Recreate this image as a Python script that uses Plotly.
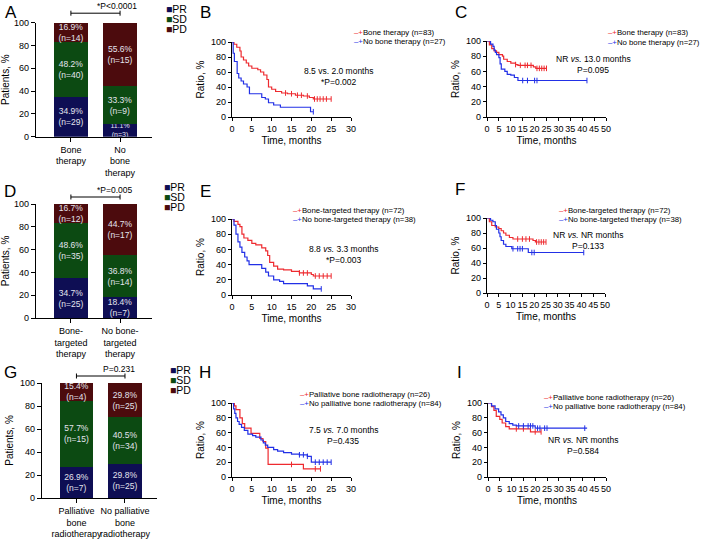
import plotly.graph_objects as go

W, H = 703, 539
FONT = "Liberation Sans, Arial, sans-serif"

# ---- response bars (A, D, G) ----
RESP_LABELS = ["PR", "SD", "PD"]
RESP_COLORS = ["#0e0e54", "#0c4a12", "#4c0b0d"]
RED = "#ee2a2f"
BLUE = "#2230e6"

A_GROUPS = ["Bone<br>therapy", "No<br>bone<br>therapy"]
A_PR = [34.9, 11.1]
A_SD = [48.2, 33.3]
A_PD = [16.9, 55.6]
A_N_PR = [29, 3]
A_N_SD = [40, 9]
A_N_PD = [14, 15]
A_P = "*P<0.0001"

D_GROUPS = ["Bone-<br>targeted<br>therapy", "No bone-<br>targeted<br>therapy"]
D_PR = [34.7, 18.4]
D_SD = [48.6, 36.8]
D_PD = [16.7, 44.7]
D_N_PR = [25, 7]
D_N_SD = [35, 14]
D_N_PD = [12, 17]
D_P = "*P=0.005"

G_GROUPS = ["Palliative<br>bone<br>radiotherapy", "No palliative<br>bone<br>radiotherapy"]
G_PR = [26.9, 29.8]
G_SD = [57.7, 40.5]
G_PD = [15.4, 29.8]
G_N_PR = [7, 25]
G_N_SD = [15, 34]
G_N_PD = [4, 25]
G_P = "P=0.231"

# ---- Kaplan-Meier curves (time in months, survival %) ----
B_RED_T = [0, 0.5, 1.2, 2.0, 2.3, 2.9, 3.6, 4.2, 5.0, 6.5, 7.2, 8.0, 8.8, 9.2, 10.0, 11.0, 12.5, 14.0, 16.0, 18.0, 19.5, 20.5, 25.0]
B_RED_S = [100, 97, 93, 88, 80, 76, 72, 68, 65, 63, 60, 56, 50, 40, 37, 34, 32, 31, 29, 28, 26, 24, 24]
B_RED_C = [13.5, 15, 16.5, 17.5, 19, 20.8, 21.5, 22.2, 23, 23.8, 25]
B_BLUE_T = [0, 0.3, 0.6, 1.3, 1.7, 2.3, 2.9, 3.8, 4.4, 7.5, 8.4, 9.2, 10.5, 12.2, 19.8, 20.5]
B_BLUE_S = [100, 85, 74, 58, 52, 48, 44, 40, 31, 26, 24, 19, 16, 13, 7, 7]
B_BLUE_C = [20.5]

C_RED_T = [0, 1.0, 2.0, 3.0, 4.0, 5.0, 6.5, 7.0, 8.5, 10.0, 12.0, 13.0, 19.5, 20.5, 25.0]
C_RED_S = [100, 95, 90, 87, 85, 82, 80, 76, 73, 71, 69, 68, 66, 64, 64]
C_RED_C = [12, 14, 16, 17, 18.5, 21, 22, 23, 24, 25]
C_BLUE_T = [0, 1.5, 2.5, 3.0, 3.5, 4.0, 5.0, 5.5, 6.0, 7.5, 8.5, 10.0, 11.5, 13.0, 42.0]
C_BLUE_S = [100, 96, 93, 88, 85, 82, 78, 70, 63, 60, 56, 55, 52, 48, 48]
C_BLUE_C = [15, 17, 20, 21, 42]

E_RED_T = [0, 0.5, 1.5, 2.0, 2.5, 3.0, 4.0, 5.0, 6.0, 7.5, 8.5, 9.0, 9.5, 10.5, 11.5, 13.0, 15.0, 17.0, 20.0, 20.5, 25.0]
E_RED_S = [100, 97, 93, 90, 80, 75, 72, 68, 66, 62, 58, 52, 43, 38, 34, 33, 31, 29, 27, 25, 25]
E_RED_C = [17, 18, 19, 21, 22, 23, 24, 25]
E_BLUE_T = [0, 0.5, 1.0, 1.5, 2.0, 2.5, 3.2, 3.8, 4.3, 7.5, 8.5, 9.2, 10.5, 12.0, 13.0, 19.0, 20.5, 22.5]
E_BLUE_S = [100, 92, 80, 70, 63, 56, 50, 45, 40, 35, 30, 25, 20, 18, 15, 12, 8, 8]
E_BLUE_C = [22.5]

F_RED_T = [0, 1.0, 2.0, 3.5, 5.0, 6.0, 7.0, 8.0, 9.5, 11.0, 19.5, 20.5, 25.0]
F_RED_S = [100, 95, 90, 88, 86, 83, 80, 77, 74, 72, 70, 68, 68]
F_RED_C = [13, 15, 16.5, 18, 21, 22, 23, 24, 25]
F_BLUE_T = [0, 1.5, 2.5, 3.5, 4.0, 5.0, 5.5, 6.0, 7.0, 8.0, 10.5, 17.5, 41.0]
F_BLUE_S = [100, 97, 95, 90, 85, 80, 75, 70, 65, 62, 59, 54, 54]
F_BLUE_C = [11, 13, 14, 15, 19, 20, 41]

H_RED_T = [0, 0.6, 1.0, 2.0, 2.6, 3.2, 4.8, 7.0, 7.8, 8.5, 9.1, 18.0, 22.3]
H_RED_S = [100, 96, 91, 80, 72, 66, 59, 52, 48, 39, 17, 11, 11]
H_RED_C = [15, 21, 22.3]
H_BLUE_T = [0, 0.4, 0.7, 1.0, 1.4, 1.8, 2.4, 3.1, 4.0, 5.2, 6.0, 7.3, 7.9, 8.4, 9.0, 10.5, 11.5, 13.0, 15.0, 17.0, 19.0, 20.0, 25.0]
H_BLUE_S = [100, 92, 86, 80, 75, 71, 67, 63, 58, 56, 54, 50, 46, 43, 40, 37, 35, 33, 31, 30, 28, 20, 20]
H_BLUE_C = [17, 18, 19, 21, 22, 23, 24, 25]

I_RED_T = [0, 1.5, 2.5, 3.5, 5.0, 6.0, 7.5, 9.0, 18.0, 22.5]
I_RED_S = [100, 95, 90, 82, 78, 73, 68, 65, 61, 61]
I_RED_C = [12, 15, 20, 22.5]
I_BLUE_T = [0, 1.5, 3.0, 4.5, 5.5, 6.5, 7.5, 9.0, 10.5, 12.0, 20.0, 42.0]
I_BLUE_S = [100, 96, 92, 88, 84, 80, 75, 72, 70, 69, 66, 66]
I_BLUE_C = [13, 15, 17, 18, 19, 21, 22, 24, 25, 41]


def fx(x):
    """window pixel x -> paper x"""
    return x / W


def fy(y):
    """window pixel y -> paper y"""
    return 1 - y / H


def step_at(times, surv, t):
    val = surv[0]
    for ti, si in zip(times, surv):
        if ti <= t:
            val = si
    return val


fig = go.Figure()
annotations = []
shapes = []

AXIS_BASE = dict(
    showline=True, linecolor="black", linewidth=1.3, ticks="outside",
    ticklen=3, tickwidth=1, tickcolor="black", showgrid=False, zeroline=False,
    tickfont=dict(size=9, color="black"), fixedrange=True, automargin=False,
    tickangle=0,
)

letter_pos = {
    "A": (11, 13), "B": (205, 13), "C": (461, 13),
    "D": (10, 191), "E": (205, 191), "F": (460, 190),
    "G": (10, 372), "H": (205, 372), "I": (460, 372),
}


def add_letter(letter):
    lx, ly = letter_pos[letter]
    annotations.append(dict(text=letter, x=fx(lx), y=fy(ly), xref="paper", yref="paper",
                            showarrow=False, font=dict(size=17, color="black"),
                            xanchor="center", yanchor="middle"))


def bar_panel(n, box, xr, groups, pr, sd, pd_, n_pr, n_sd, n_pd, ptext, letter, legend_xy, gap):
    x0, x1, y0, y1 = box
    for label, color, vals, counts in zip(RESP_LABELS, RESP_COLORS, [pr, sd, pd_], [n_pr, n_sd, n_pd]):
        texts = [f"{v}%<br>(n={c})" for v, c in zip(vals, counts)]
        sizes = [8.5 if v > 14 else 7 for v in vals]
        fig.add_trace(go.Bar(
            x=[0, 1], y=vals, name=label, width=0.69,
            marker=dict(color=color, line=dict(width=0)),
            text=texts, textposition="inside", insidetextanchor="middle",
            textangle=0, constraintext="none",
            textfont=dict(size=sizes, color="#e4e4ee", family=FONT),
            xaxis=f"x{n}", yaxis=f"y{n}", hoverinfo="skip",
        ))
    fig.layout[f"xaxis{n}"] = dict(
        AXIS_BASE, domain=[fx(x0), fx(x1)], range=xr, anchor=f"y{n}",
        tickvals=[0, 1], ticktext=groups, ticklen=4,
    )
    fig.layout[f"yaxis{n}"] = dict(
        AXIS_BASE, domain=[fy(y1), fy(y0)], range=[0, 100], anchor=f"x{n}",
        tickvals=[0, 20, 40, 60, 80, 100], ticklen=4,
        title=dict(text="Patients, %", font=dict(size=10, color="black"), standoff=4),
    )

    # significance bracket over the two bars
    def cx(v):
        return fx(x0 + (v - xr[0]) / (xr[1] - xr[0]) * (x1 - x0))

    by = y0 - gap
    shapes.append(dict(type="line", xref="paper", yref="paper", x0=cx(0), x1=cx(1),
                       y0=fy(by), y1=fy(by), line=dict(color="black", width=1)))
    for v in (0, 1):
        shapes.append(dict(type="line", xref="paper", yref="paper", x0=cx(v), x1=cx(v),
                           y0=fy(by - 2.5), y1=fy(by + 2.5),
                           line=dict(color="black", width=1)))
    annotations.append(dict(text=ptext, x=(cx(0) + cx(1)) / 2, y=fy(by - 7),
                            xref="paper", yref="paper", showarrow=False,
                            font=dict(size=8.5, color="black"), yanchor="middle"))
    add_letter(letter)
    lx, ly = legend_xy
    for i, (label, color) in enumerate(zip(RESP_LABELS, RESP_COLORS)):
        annotations.append(dict(
            text=f"<span style='color:{color}'>■</span>{label}",
            x=fx(lx), y=fy(ly + i * 10), xref="paper", yref="paper",
            showarrow=False, xanchor="left", yanchor="middle",
            font=dict(size=10.5, color="black"),
        ))


def km_panel(n, box, xmax, curves, names, summary, sum_xy, legend_xy, letter):
    x0, x1, y0, y1 = box
    for (t, s, cens, color) in curves:
        fig.add_trace(go.Scatter(
            x=t, y=s, mode="lines", line=dict(shape="hv", color=color, width=1.2),
            xaxis=f"x{n}", yaxis=f"y{n}", cliponaxis=False, hoverinfo="skip",
        ))
        fig.add_trace(go.Scatter(
            x=cens, y=[step_at(t, s, c) for c in cens], mode="markers",
            marker=dict(symbol="line-ns", size=4, line=dict(color=color, width=1)),
            xaxis=f"x{n}", yaxis=f"y{n}", cliponaxis=False, hoverinfo="skip",
        ))
    fig.layout[f"xaxis{n}"] = dict(
        AXIS_BASE, domain=[fx(x0), fx(x1)], range=[0, xmax], anchor=f"y{n}",
        tickvals=list(range(0, xmax + 1, 5)),
        title=dict(text="Time, months", font=dict(size=10, color="black"), standoff=4),
    )
    fig.layout[f"yaxis{n}"] = dict(
        AXIS_BASE, domain=[fy(y1), fy(y0)], range=[0, 100], anchor=f"x{n}",
        tickvals=[0, 20, 40, 60, 80, 100],
        title=dict(text="Ratio, %", font=dict(size=10, color="black"), standoff=4),
    )
    lx, ly = legend_xy
    for i, (name, (_, _, _, color)) in enumerate(zip(names, curves)):
        annotations.append(dict(
            text=f"<span style='color:{color}'>–+</span>{name}",
            x=fx(lx), y=fy(ly + i * 9.5), xref="paper", yref="paper",
            showarrow=False, xanchor="left", yanchor="middle",
            font=dict(size=7.8, color="black"),
        ))
    sx, sy = sum_xy
    for i, line in enumerate(summary):
        annotations.append(dict(
            text=line, x=fx(sx), y=fy(sy + i * 11), xref="paper", yref="paper",
            showarrow=False, xanchor="center", yanchor="middle",
            font=dict(size=8.5, color="black"),
        ))
    add_letter(letter)


bar_panel(1, (36, 152, 22.7, 136.7), [-0.71, 1.65], A_GROUPS, A_PR, A_SD, A_PD,
          A_N_PR, A_N_SD, A_N_PD, A_P, "A", (164, 9), 9.5)
km_panel(2, (232, 351, 42, 117), 30,
         [(B_RED_T, B_RED_S, B_RED_C, RED), (B_BLUE_T, B_BLUE_S, B_BLUE_C, BLUE)],
         ["Bone therapy (n=83)", "No bone therapy (n=27)"],
         ["8.5 vs. 2.0 months", "*P=0.002"], (338, 71), (352, 32), "B")
km_panel(3, (487, 606, 41, 117), 50,
         [(C_RED_T, C_RED_S, C_RED_C, RED), (C_BLUE_T, C_BLUE_S, C_BLUE_C, BLUE)],
         ["Bone therapy (n=83)", "No bone therapy (n=27)"],
         ["NR <i>vs.</i> 13.0 months", "P=0.095"], (593, 59), (606, 33), "C")

bar_panel(4, (36, 152, 204, 318), [-0.71, 1.65], D_GROUPS, D_PR, D_SD, D_PD,
          D_N_PR, D_N_SD, D_N_PD, D_P, "D", (162, 187), 7)
km_panel(5, (232, 351, 219, 295), 30,
         [(E_RED_T, E_RED_S, E_RED_C, RED), (E_BLUE_T, E_BLUE_S, E_BLUE_C, BLUE)],
         ["Bone-targeted therapy (n=72)", "No bone-targeted therapy (n=38)"],
         ["8.8 <i>vs.</i> 3.3 months", "*P=0.003"], (343, 249), (291, 210), "E")
km_panel(6, (487, 605, 218, 293), 50,
         [(F_RED_T, F_RED_S, F_RED_C, RED), (F_BLUE_T, F_BLUE_S, F_BLUE_C, BLUE)],
         ["Bone-targeted therapy (n=72)", "No bone-targeted therapy (n=38)"],
         ["NR <i>vs.</i> NR months", "P=0.133"], (588, 235), (557, 210), "F")

bar_panel(7, (42, 157, 383, 498), [-0.71, 1.66], G_GROUPS, G_PR, G_SD, G_PD,
          G_N_PR, G_N_SD, G_N_PD, G_P, "G", (168, 370), 7)
km_panel(8, (232, 351, 403, 477), 30,
         [(H_RED_T, H_RED_S, H_RED_C, RED), (H_BLUE_T, H_BLUE_S, H_BLUE_C, BLUE)],
         ["Palliative bone radiotherapy (n=26)", "No palliative bone radiotherapy (n=84)"],
         ["7.5 <i>vs.</i> 7.0 months", "P=0.435"], (343, 430), (298, 394), "H")
km_panel(9, (488, 606, 403, 477), 50,
         [(I_RED_T, I_RED_S, I_RED_C, RED), (I_BLUE_T, I_BLUE_S, I_BLUE_C, BLUE)],
         ["Palliative bone radiotherapy (n=26)", "No palliative bone radiotherapy (n=84)"],
         ["NR <i>vs.</i> NR months", "P=0.584"], (583, 440), (542, 397), "I")

fig.update_layout(
    width=W, height=H, margin=dict(l=0, r=0, t=0, b=0),
    barmode="stack", showlegend=False,
    plot_bgcolor="white", paper_bgcolor="white",
    font=dict(family=FONT, size=9, color="black"),
    annotations=annotations, shapes=shapes,
)

# drop the browser's default 8px body margin so the figure fills the window
fig.write_html(
    "out.html",
    config={"displayModeBar": False},
    post_script="document.body.style.margin='0';document.body.style.overflow='hidden';",
)
